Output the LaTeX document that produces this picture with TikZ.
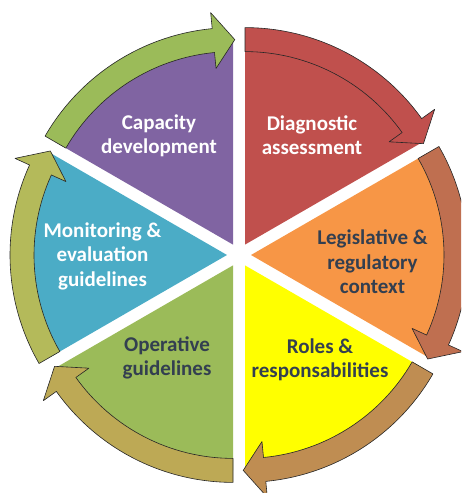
\documentclass[tikz,border=0pt]{standalone}
\usepackage{fontspec}
\setmainfont{Carlito}
\usetikzlibrary{calc}

\definecolor{capfill}{HTML}{8064A2}
\definecolor{diagfill}{HTML}{C0504D}
\definecolor{legisfill}{HTML}{F79646}
\definecolor{rolesfill}{HTML}{FFFF00}
\definecolor{operfill}{HTML}{9BBB59}
\definecolor{monitfill}{HTML}{4BACC6}
\definecolor{diagarrow}{HTML}{C0504D}
\definecolor{legisarrow}{HTML}{BF6F50}
\definecolor{rolesarrow}{HTML}{BF8D52}
\definecolor{operarrow}{HTML}{BDA955}
\definecolor{monitarrow}{HTML}{B4BA5A}
\definecolor{caparrow}{HTML}{9BBB59}
\definecolor{darktext}{RGB}{51,63,80}

\begin{document}
\begin{tikzpicture}[x=1pt,y=1pt,
  cyclearrow/.style={draw=black!85, line width=0.6pt, line join=round},
  blocktext/.style={align=center, font=\bfseries\fontsize{21}{24.5}\selectfont}]
\clip (0,0) rectangle (461,493);
\coordinate (c) at (239,238);
% apex of each slice, pushed out along its middle
\coordinate (pdiag) at ([shift={(c)}]60:12);
\coordinate (pcap) at ([shift={(c)}]120:12);
\coordinate (pmonit) at ([shift={(c)}]180:12);
\coordinate (poper) at ([shift={(c)}]240:12);
\coordinate (proles) at ([shift={(c)}]300:12);
\coordinate (plegis) at ([shift={(c)}]0:12);

% slices
\fill[diagfill] (pdiag) -- ([shift={(pdiag)}]30:205) arc[start angle=30,end angle=90,radius=205] -- cycle;
\fill[capfill] (pcap) -- ([shift={(pcap)}]90:205) arc[start angle=90,end angle=150,radius=205] -- cycle;
\fill[monitfill] (pmonit) -- ([shift={(pmonit)}]150:205) arc[start angle=150,end angle=210,radius=205] -- cycle;
\fill[operfill] (poper) -- ([shift={(poper)}]210:205) arc[start angle=210,end angle=270,radius=205] -- cycle;
\fill[rolesfill] (proles) -- ([shift={(proles)}]270:205) arc[start angle=270,end angle=330,radius=205] -- cycle;
\fill[legisfill] (plegis) -- ([shift={(plegis)}]-30:205) arc[start angle=-30,end angle=30,radius=205] -- cycle;

% arrows round the rim, clockwise
\draw[cyclearrow, fill=diagarrow] ([shift={(pdiag)}]90:217) arc[start angle=90,end angle=35.5,radius=217] -- ([shift={(pdiag)}]35.5:233) -- ([shift={(pdiag)}]29.5:205) -- ([shift={(pdiag)}]35.5:177) -- ([shift={(pdiag)}]35.5:193) arc[start angle=35.5,end angle=90,radius=193] -- cycle;
\draw[cyclearrow, fill=legisarrow] ([shift={(plegis)}]30:217) arc[start angle=30,end angle=-24.5,radius=217] -- ([shift={(plegis)}]-24.5:233) -- ([shift={(plegis)}]-30.5:205) -- ([shift={(plegis)}]-24.5:177) -- ([shift={(plegis)}]-24.5:193) arc[start angle=-24.5,end angle=30,radius=193] -- cycle;
\draw[cyclearrow, fill=rolesarrow] ([shift={(proles)}]330:217) arc[start angle=330,end angle=275.5,radius=217] -- ([shift={(proles)}]275.5:233) -- ([shift={(proles)}]269.5:205) -- ([shift={(proles)}]275.5:177) -- ([shift={(proles)}]275.5:193) arc[start angle=275.5,end angle=330,radius=193] -- cycle;
\draw[cyclearrow, fill=operarrow] ([shift={(poper)}]270:217) arc[start angle=270,end angle=215.5,radius=217] -- ([shift={(poper)}]215.5:233) -- ([shift={(poper)}]209.5:205) -- ([shift={(poper)}]215.5:177) -- ([shift={(poper)}]215.5:193) arc[start angle=215.5,end angle=270,radius=193] -- cycle;
\draw[cyclearrow, fill=monitarrow] ([shift={(pmonit)}]210:217) arc[start angle=210,end angle=155.5,radius=217] -- ([shift={(pmonit)}]155.5:233) -- ([shift={(pmonit)}]149.5:205) -- ([shift={(pmonit)}]155.5:177) -- ([shift={(pmonit)}]155.5:193) arc[start angle=155.5,end angle=210,radius=193] -- cycle;
\draw[cyclearrow, fill=caparrow] ([shift={(pcap)}]150:217) arc[start angle=150,end angle=95.5,radius=217] -- ([shift={(pcap)}]95.5:233) -- ([shift={(pcap)}]89.5:205) -- ([shift={(pcap)}]95.5:177) -- ([shift={(pcap)}]95.5:193) arc[start angle=95.5,end angle=150,radius=193] -- cycle;

% texts
\node[blocktext, text=white] (cap) at (159,357) {Capacity\\development};
\node[blocktext, text=white] (diag) at (312,358) {Diagnostic\\assessment};
\node[blocktext, text=darktext] (legis) at (372.5,231) {Legislative \&\\regulatory\\context};
\node[blocktext, text=darktext] (roles) at (320,133) {Roles \&\\responsabilities};
\node[blocktext, text=darktext] (oper) at (167,135) {Operative\\guidelines};
\node[blocktext, text=white] (monit) at (102.5,237) {Monitoring \&\\evaluation\\guidelines};
\end{tikzpicture}
\end{document}
